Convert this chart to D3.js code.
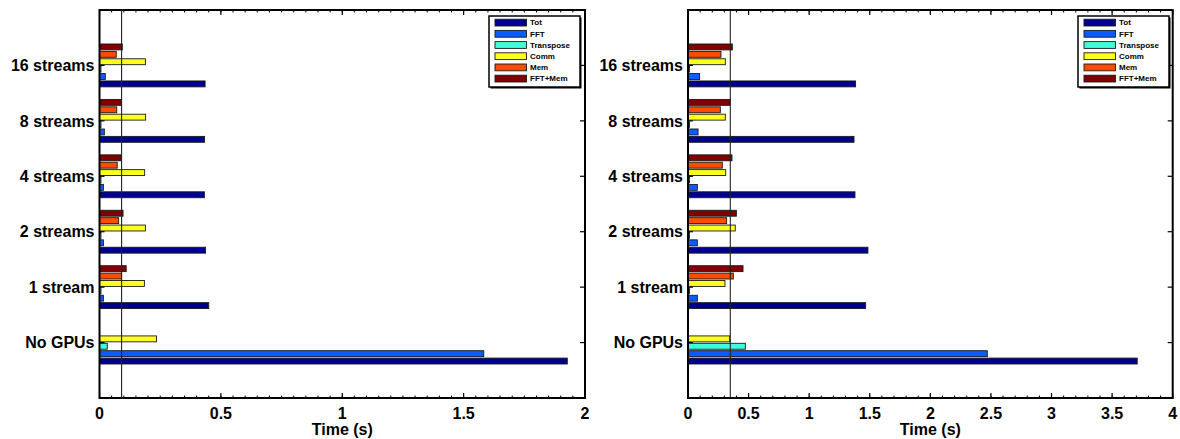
<!DOCTYPE html>
<html>
<head>
<meta charset="utf-8">
<script src="https://cdn.jsdelivr.net/npm/d3@7"></script>
<style>
  html, body { margin: 0; padding: 0; background: #fff; }
  svg { display: block; font-family: "Liberation Sans", Arial, Helvetica, sans-serif; }
</style>
</head>
<body>
<svg id="chart" width="1180" height="439"></svg>
<script>
// ---------------- data ----------------
const categories = ["No GPUs", "1 stream", "2 streams", "4 streams", "8 streams", "16 streams"];
const seriesNames = ["Tot", "FFT", "Transpose", "Comm", "Mem", "FFT+Mem"];
const seriesColors = ["#00008f", "#0a5cff", "#40ffd8", "#ffff20", "#ff4a00", "#800000"];

// Left panel values (s), ordered as categories
const leftTot       = [1.927, 0.450, 0.437, 0.432, 0.433, 0.435];
const leftFFT       = [1.583, 0.016, 0.016, 0.016, 0.020, 0.024];
const leftTranspose = [0.032, 0.006, 0.006, 0.006, 0.006, 0.006];
const leftComm      = [0.235, 0.185, 0.189, 0.186, 0.190, 0.189];
const leftMem       = [0.000, 0.091, 0.079, 0.073, 0.071, 0.069];
const leftFFTMem    = [0.000, 0.110, 0.097, 0.089, 0.090, 0.094];
const leftRefLine   = 0.091;
const leftXTicks    = [0, 0.5, 1, 1.5, 2];
const leftXTickLabels = ["0", "0.5", "1", "1.5", "2"];

// Right panel values (s)
const rightTot       = [3.707, 1.466, 1.485, 1.378, 1.370, 1.383];
const rightFFT       = [2.470, 0.077, 0.077, 0.077, 0.083, 0.096];
const rightTranspose = [0.473, 0.012, 0.012, 0.012, 0.012, 0.012];
const rightComm      = [0.344, 0.305, 0.390, 0.311, 0.308, 0.308];
const rightMem       = [0.000, 0.374, 0.319, 0.283, 0.267, 0.272];
const rightFFTMem    = [0.000, 0.454, 0.399, 0.363, 0.347, 0.366];
const rightRefLine   = 0.349;
const rightXTicks    = [0, 0.5, 1, 1.5, 2, 2.5, 3, 3.5, 4];
const rightXTickLabels = ["0", "0.5", "1", "1.5", "2", "2.5", "3", "3.5", "4"];

const xLabel = "Time (s)";

// ---------------- drawing ----------------
const svg = d3.select("#chart");

function drawPanel(opt) {
  const { left, right, top, bottom, xMax, minorStep, values, refLine, ticks, tickLabels, legendX } = opt;
  const g = svg.append("g");
  const x = d3.scaleLinear().domain([0, xMax]).range([left, right]);
  const y = d3.scaleLinear().domain([0, categories.length + 1]).range([bottom, top]);
  const nS = seriesNames.length;
  const groupW = 0.8;
  const slot = groupW / nS;
  const barFrac = 0.8;

  // bars
  categories.forEach((cat, ci) => {
    const yc = ci + 1;
    seriesNames.forEach((s, si) => {
      const v = values[si][ci];
      if (!(v > 0)) return;
      const center = yc + (si - (nS - 1) / 2) * slot;
      const y0 = y(center + slot * barFrac / 2);
      const y1 = y(center - slot * barFrac / 2);
      g.append("rect")
        .attr("x", x(0))
        .attr("y", y0)
        .attr("width", Math.max(0, x(v) - x(0)))
        .attr("height", y1 - y0)
        .attr("fill", seriesColors[si])
        .attr("stroke", "#1a1a1a")
        .attr("stroke-width", 0.9);
    });
  });

  // reference vertical line
  g.append("line")
    .attr("x1", x(refLine)).attr("x2", x(refLine))
    .attr("y1", top).attr("y2", bottom)
    .attr("stroke", "#222").attr("stroke-width", 1.1);

  // minor ticks (top & bottom, inward)
  const minor = d3.range(0, xMax + 1e-9, minorStep);
  minor.forEach(t => {
    g.append("line").attr("x1", x(t)).attr("x2", x(t)).attr("y1", bottom).attr("y2", bottom - 2.5)
      .attr("stroke", "#000").attr("stroke-width", 1);
    g.append("line").attr("x1", x(t)).attr("x2", x(t)).attr("y1", top).attr("y2", top + 2.5)
      .attr("stroke", "#000").attr("stroke-width", 1);
  });
  // major ticks
  ticks.forEach(t => {
    g.append("line").attr("x1", x(t)).attr("x2", x(t)).attr("y1", bottom).attr("y2", bottom - 5)
      .attr("stroke", "#000").attr("stroke-width", 1.2);
    g.append("line").attr("x1", x(t)).attr("x2", x(t)).attr("y1", top).attr("y2", top + 5)
      .attr("stroke", "#000").attr("stroke-width", 1.2);
  });
  // y ticks (left & right, inward)
  categories.forEach((c, ci) => {
    const yy = y(ci + 1);
    g.append("line").attr("x1", left).attr("x2", left + 5).attr("y1", yy).attr("y2", yy)
      .attr("stroke", "#000").attr("stroke-width", 1.2);
    g.append("line").attr("x1", right).attr("x2", right - 5).attr("y1", yy).attr("y2", yy)
      .attr("stroke", "#000").attr("stroke-width", 1.2);
  });

  // frame
  g.append("rect")
    .attr("x", left).attr("y", top)
    .attr("width", right - left).attr("height", bottom - top)
    .attr("fill", "none").attr("stroke", "#000").attr("stroke-width", 2);

  // x tick labels
  ticks.forEach((t, i) => {
    g.append("text")
      .attr("x", x(t)).attr("y", bottom + 21)
      .attr("text-anchor", "middle")
      .attr("font-size", 16).attr("font-weight", "bold")
      .text(tickLabels[i]);
  });
  // x label
  g.append("text")
    .attr("x", (left + right) / 2).attr("y", bottom + 37)
    .attr("text-anchor", "middle")
    .attr("font-size", 16).attr("font-weight", "bold")
    .text(xLabel);

  // y tick labels
  categories.forEach((c, ci) => {
    g.append("text")
      .attr("x", left - 5).attr("y", y(ci + 1))
      .attr("dy", "0.36em")
      .attr("text-anchor", "end")
      .attr("font-size", 16).attr("font-weight", "bold")
      .text(c);
  });

  // legend
  const lg = g.append("g");
  const lx = legendX, ly = top + 6, lw = 91, lh = 71;
  lg.append("rect").attr("x", lx + 1.5).attr("y", ly + 1.5).attr("width", lw).attr("height", lh)
    .attr("fill", "#000");
  lg.append("rect").attr("x", lx).attr("y", ly).attr("width", lw).attr("height", lh)
    .attr("fill", "#fff").attr("stroke", "#000").attr("stroke-width", 1.5);
  seriesNames.forEach((s, si) => {
    const ry = ly + 6.5 + si * 11.2;
    lg.append("rect").attr("x", lx + 6).attr("y", ry - 3.3).attr("width", 31.5).attr("height", 6.8)
      .attr("fill", seriesColors[si]).attr("stroke", "#1a1a1a").attr("stroke-width", 0.9);
    lg.append("text").attr("x", lx + 41).attr("y", ry).attr("dy", "0.36em")
      .attr("font-size", 8).attr("font-weight", "bold").text(s);
  });
}

drawPanel({
  left: 99.5, right: 585, top: 10, bottom: 398, xMax: 2, minorStep: 0.05,
  values: [leftTot, leftFFT, leftTranspose, leftComm, leftMem, leftFFTMem],
  refLine: leftRefLine, ticks: leftXTicks, tickLabels: leftXTickLabels, legendX: 489
});
drawPanel({
  left: 688, right: 1172.7, top: 10, bottom: 398, xMax: 4, minorStep: 0.1,
  values: [rightTot, rightFFT, rightTranspose, rightComm, rightMem, rightFFTMem],
  refLine: rightRefLine, ticks: rightXTicks, tickLabels: rightXTickLabels, legendX: 1078
});
</script>
</body>
</html>
